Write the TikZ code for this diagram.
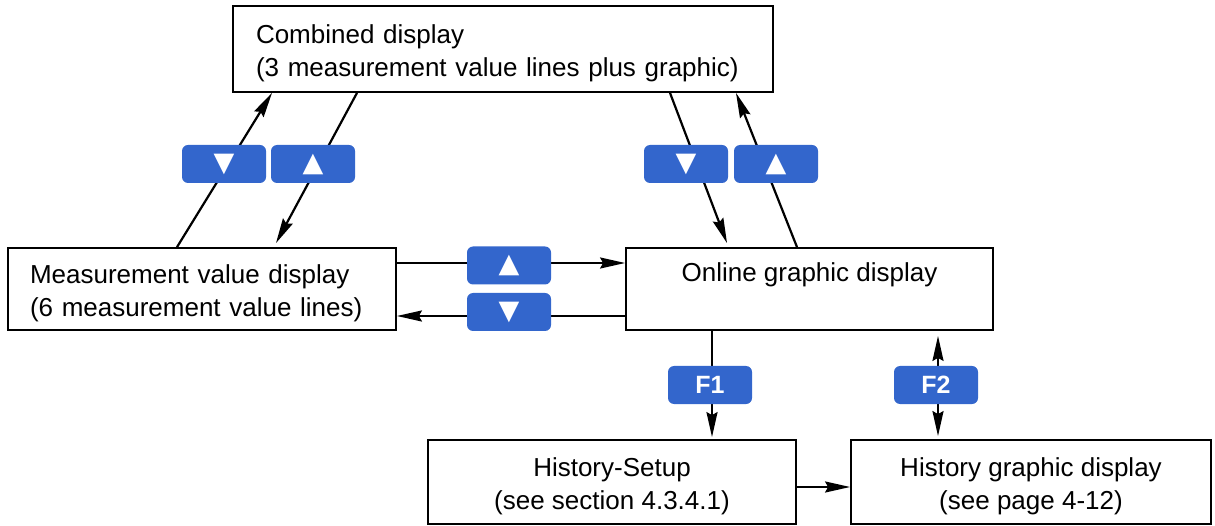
\documentclass[tikz,border=0pt]{standalone}
\usepackage{fontspec}
\setmainfont{Liberation Sans}
\newfontfamily\symfont{DejaVu Sans}
\usepackage{tikz}
\usetikzlibrary{arrows.meta,positioning,calc}
\definecolor{tastenblau}{HTML}{3366CC}
\tikzset{
  screen/.style={rectangle, draw=black, line width=1.8pt, fill=white,
                 font=\fontsize{26}{33}\selectfont, inner sep=0pt},
  taste/.style={rectangle, rounded corners=6pt, fill=tastenblau, text=white,
                minimum width=84pt, minimum height=38pt, inner sep=0pt},
  pfeil/.style={-{Stealth[length=25pt,width=11pt,inset=3pt]}, line width=2.2pt},
  doppelpfeil/.style={{Stealth[length=25pt,width=11pt,inset=3pt]}-{Stealth[length=25pt,width=11pt,inset=3pt]}, line width=2.2pt},
}
\newcommand{\tri}[1]{{\symfont\fontsize{27}{27}\selectfont#1}}
\newcommand{\fkey}[1]{{\bfseries\fontsize{25}{25}\selectfont#1}}
\newcommand{\hoch}{\rule{0pt}{28pt}}

\begin{document}
\begin{tikzpicture}[x=1pt,y=-1pt]
     \useasboundingbox (0,0) rectangle (1215,526);
     \node[screen, minimum width=540pt, minimum height=86pt, text width=494pt, align=left] (comb) at (503,49)
       {\hoch Combined display\\(3 measurement value lines plus graphic)};
     \node[screen, minimum width=388pt, minimum height=82pt, text width=344pt, align=left] (meas) at (202,289)
       {\hoch Measurement value display\\(6 measurement value lines)};
     \node[screen, minimum width=367pt, minimum height=82pt, align=center] (online) at (809.5,289)
       {Online graphic display\\\mbox{}};
     \node[screen, minimum width=368pt, minimum height=84pt, align=center] (hset) at (612,482)
       {\hoch History-Setup\\(see section 4.3.4.1)};
     \node[screen, minimum width=360pt, minimum height=84pt, align=center] (hgraph) at (1031,482)
       {\hoch History graphic display\\(see page 4-12)};
     % connectors
     \draw[pfeil]([xshift=-25pt]meas.north)--([xshift=-231pt]comb.south);
     \draw[pfeil]([xshift=-146pt]comb.south)--([xshift=74pt,yshift=4pt]meas.north);
     \draw[pfeil]([xshift=167pt]comb.south)--([xshift=-82.5pt,yshift=4pt]online.north);
     \draw[pfeil]([xshift=-12.5pt]online.north)--([xshift=233pt]comb.south);
     \draw[pfeil]([yshift=26pt]meas.east)--([yshift=26pt]online.west);
     \draw[pfeil]([yshift=-27pt]online.west)--([yshift=-27pt]meas.east);
     \draw[pfeil]([xshift=-97.5pt]online.south)--([xshift=100pt,yshift=2pt]hset.north);
     \draw[doppelpfeil]([xshift=128.5pt,yshift=-5pt]online.south)--([xshift=-93pt,yshift=3pt]hgraph.north);
     \draw[pfeil]([yshift=-5pt]hset.east)--([yshift=-5pt]hgraph.west);
     % keys
     \node[taste] (kl1) at (224,164) {\tri{▼}};
     \node[taste] (kl2) at (313,164) {\tri{▲}};
     \node[taste] (kr1) at (686,164) {\tri{▼}};
     \node[taste] (kr2) at (776,164) {\tri{▲}};
     \node[taste] (kh1) at (509,265.5) {\tri{▲}};
     \node[taste] (kh2) at (509,312) {\tri{▼}};
     \node[taste] (f1) at (710,385) {\fkey{F1}};
     \node[taste] (f2) at (936,385) {\fkey{F2}};
   \end{tikzpicture}
\end{document}
